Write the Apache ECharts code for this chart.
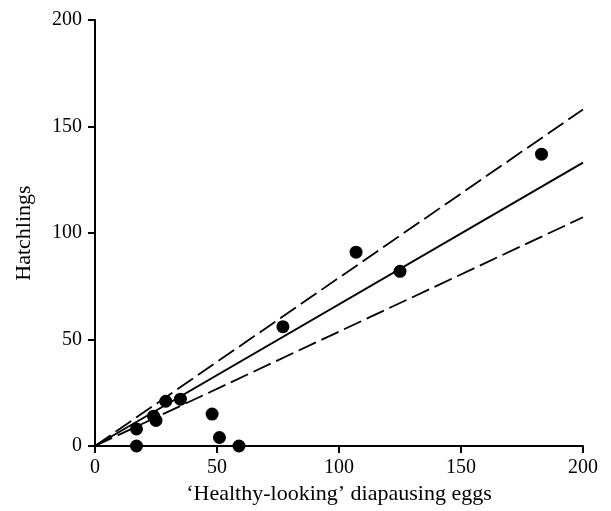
<!DOCTYPE html>
<html>
<head>
<meta charset="utf-8">
<script src="https://cdn.jsdelivr.net/npm/echarts@6/dist/echarts.min.js"></script>
<style>
  html, body { margin: 0; padding: 0; background: #fff; }
  #chart { width: 611px; height: 511px; }
</style>
</head>
<body>
<div id="chart"></div>
<script>
// observed eggs vs hatchlings
const eggs = [183, 107, 125, 77, 17, 17, 24, 25, 29, 35, 48, 51, 59]
const hatchlings = [137, 91, 82, 56, 0, 8, 14, 12, 21, 22, 15, 4, 0]

// fitted line through origin and its bounds (slope)
const fitSlope = 0.665
const upperSlope = 0.79
const lowerSlope = 0.537
const xRange = [0, 200]

const font = '"Liberation Serif", "DejaVu Serif", serif'

function lineFrom(slope) {
  return xRange.map(x => [x, slope * x])
}

const chart = echarts.init(document.getElementById('chart'))
chart.setOption({
  animation: false,
  grid: { left: 95, right: 28, top: 20, bottom: 65 },
  xAxis: {
    type: 'value',
    min: 0, max: 200, interval: 50,
    name: '‘Healthy-looking’ diapausing eggs',
    nameLocation: 'middle',
    nameGap: 37,
    nameTextStyle: { color: '#000', fontFamily: font, fontSize: 22 },
    axisLine: { show: true, onZero: false, lineStyle: { color: '#000', width: 2 } },
    axisTick: { show: true, length: 7, lineStyle: { color: '#000', width: 2 } },
    axisLabel: { color: '#000', fontFamily: font, fontSize: 20, margin: 12 },
    splitLine: { show: false }
  },
  yAxis: {
    type: 'value',
    min: 0, max: 200, interval: 50,
    name: 'Hatchlings',
    nameLocation: 'middle',
    nameGap: 60,
    nameTextStyle: { color: '#000', fontFamily: font, fontSize: 22 },
    axisLine: { show: true, onZero: false, lineStyle: { color: '#000', width: 2 } },
    axisTick: { show: true, length: 7, lineStyle: { color: '#000', width: 2 } },
    axisLabel: { color: '#000', fontFamily: font, fontSize: 20, margin: 13 },
    splitLine: { show: false }
  },
  series: [
    {
      type: 'line',
      data: lineFrom(fitSlope),
      symbol: 'none',
      lineStyle: { color: '#000', width: 2 }
    },
    {
      type: 'line',
      data: lineFrom(upperSlope),
      symbol: 'none',
      lineStyle: { color: '#000', width: 1.8, type: [19, 6] }
    },
    {
      type: 'line',
      data: lineFrom(lowerSlope),
      symbol: 'none',
      lineStyle: { color: '#000', width: 1.8, type: [19, 6] }
    },
    {
      type: 'scatter',
      data: eggs.map((x, i) => [x, hatchlings[i]]),
      symbol: 'circle',
      symbolSize: 13,
      itemStyle: { color: '#000', opacity: 1 },
      z: 5
    }
  ]
})
</script>
</body>
</html>
